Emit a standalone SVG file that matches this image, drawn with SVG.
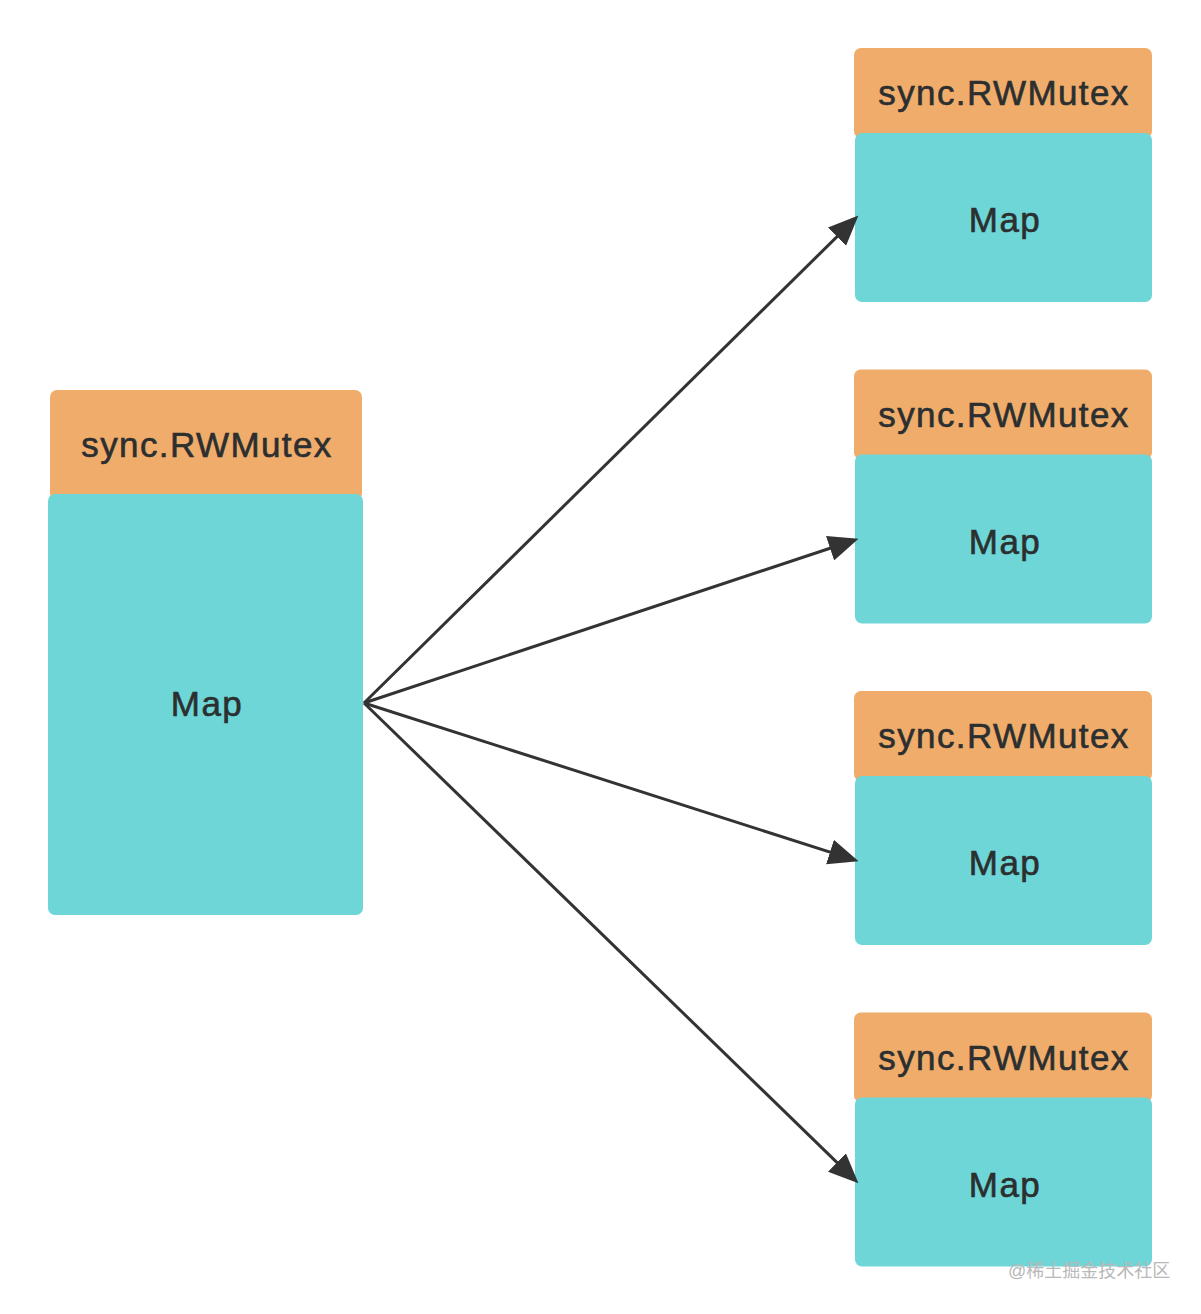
<svg xmlns="http://www.w3.org/2000/svg" width="1201" height="1314" viewBox="0 0 1201 1314">
  <style>
    .mutex { fill: #F0AC6A; }
    .map { fill: #6FD6D7; }
    .label { font-family: "Liberation Sans", Arial, "Noto Sans CJK SC", sans-serif; font-size: 35px; letter-spacing: 1.4px; fill: #2b2f30; stroke: #2b2f30; stroke-width: 0.6; text-anchor: middle; }
    .conn { stroke: #333333; stroke-width: 3; fill: none; marker-end: url(#arrow); }
    .wm { font-family: "Liberation Sans", "Noto Sans CJK SC", sans-serif; font-size: 18px; fill: #b8b8b8; }
  </style>
  <defs>
    <marker id="arrow" markerUnits="userSpaceOnUse" markerWidth="30" markerHeight="26" viewBox="0 0 28 24" refX="20" refY="12" orient="auto">
      <path d="M0,0 L28,12 L0,24 z" fill="#333333"/>
    </marker>
  </defs>
  <rect width="1201" height="1314" fill="#ffffff"/>

  <g id="source">
    <rect class="mutex" x="50" y="390" width="312" height="110" rx="7"/>
    <rect class="map" x="48" y="494" width="315" height="421" rx="7"/>
    <text class="label" x="207" y="457">sync.RWMutex</text>
    <text class="label" x="207" y="716">Map</text>
  </g>

  <g id="shard1">
    <rect class="mutex" x="854" y="48" width="298" height="90" rx="7"/>
    <rect class="map" x="855" y="133" width="297" height="169" rx="7"/>
    <text class="label" x="1004" y="105">sync.RWMutex</text>
    <text class="label" x="1005" y="232">Map</text>
  </g>

  <g id="shard2">
    <rect class="mutex" x="854" y="369.5" width="298" height="90" rx="7"/>
    <rect class="map" x="855" y="454.5" width="297" height="169" rx="7"/>
    <text class="label" x="1004" y="426.5">sync.RWMutex</text>
    <text class="label" x="1005" y="553.5">Map</text>
  </g>

  <g id="shard3">
    <rect class="mutex" x="854" y="691" width="298" height="90" rx="7"/>
    <rect class="map" x="855" y="776" width="297" height="169" rx="7"/>
    <text class="label" x="1004" y="748">sync.RWMutex</text>
    <text class="label" x="1005" y="875">Map</text>
  </g>

  <g id="shard4">
    <rect class="mutex" x="854" y="1012.5" width="298" height="90" rx="7"/>
    <rect class="map" x="855" y="1097.5" width="297" height="169" rx="7"/>
    <text class="label" x="1004" y="1069.5">sync.RWMutex</text>
    <text class="label" x="1005" y="1196.5">Map</text>
  </g>

  <g id="connectors">
    <line class="conn" x1="364" y1="703" x2="852.3" y2="221.6"/>
    <line class="conn" x1="364" y1="703" x2="850.4" y2="541.5"/>
    <line class="conn" x1="364" y1="703" x2="850.4" y2="858.6"/>
    <line class="conn" x1="364" y1="703" x2="852.3" y2="1177.4"/>
  </g>

  <text class="wm" x="1008" y="1277">@稀土掘金技术社区</text>
</svg>
